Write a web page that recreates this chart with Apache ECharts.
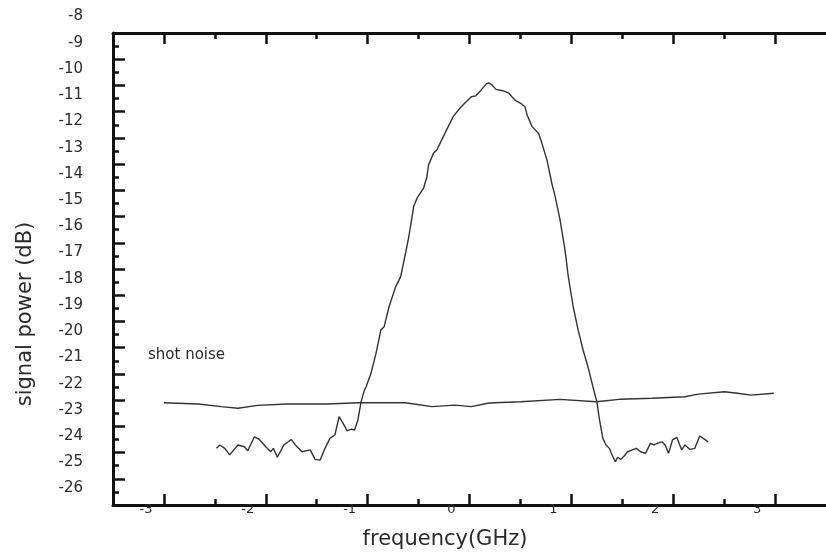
<!DOCTYPE html>
<html>
<head>
<meta charset="utf-8">
<script src="https://cdn.jsdelivr.net/npm/echarts@6/dist/echarts.min.js"></script>
<style>html,body{margin:0;padding:0;background:#fff}#c{width:826px;height:553px}</style>
</head>
<body>
<div id="c"></div>
<script>
// ---- data ----
const signalFreq = [-2.484,-2.451,-2.403,-2.354,-2.274,-2.209,-2.177,-2.112,-2.064,-2.000,-1.952,-1.925,-1.887,-1.822,-1.751,-1.709,-1.645,-1.564,-1.516,-1.467,-1.419,-1.371,-1.322,-1.280,-1.241,-1.202,-1.160,-1.128,-1.096,-1.064,-1.032,-1.015,-0.967,-0.918,-0.870,-0.838,-0.790,-0.725,-0.676,-0.628,-0.596,-0.548,-0.515,-0.451,-0.418,-0.402,-0.354,-0.321,-0.257,-0.209,-0.160,-0.095,-0.047,0.018,0.060,0.115,0.163,0.188,0.221,0.260,0.324,0.382,0.421,0.454,0.502,0.544,0.566,0.614,0.679,0.711,0.760,0.808,0.841,0.889,0.938,0.970,1.018,1.067,1.115,1.163,1.212,1.250,1.277,1.309,1.341,1.373,1.399,1.432,1.454,1.486,1.519,1.551,1.599,1.638,1.679,1.728,1.776,1.809,1.858,1.890,1.921,1.954,1.993,2.035,2.083,2.115,2.164,2.212,2.260,2.309,2.342];
const signalPower = [-23.84,-23.71,-23.84,-24.09,-23.71,-23.78,-23.93,-23.40,-23.50,-23.78,-23.97,-23.84,-24.18,-23.71,-23.50,-23.71,-23.97,-23.90,-24.26,-24.29,-23.84,-23.46,-23.33,-22.63,-22.89,-23.17,-23.11,-23.14,-22.76,-22.06,-21.62,-21.49,-20.98,-20.22,-19.33,-19.20,-18.44,-17.68,-17.29,-16.40,-15.77,-14.62,-14.30,-13.92,-13.48,-13.03,-12.59,-12.46,-11.95,-11.57,-11.19,-10.87,-10.68,-10.43,-10.40,-10.17,-9.95,-9.90,-9.98,-10.15,-10.20,-10.28,-10.45,-10.58,-10.68,-10.81,-11.13,-11.57,-11.83,-12.21,-12.84,-13.73,-14.24,-15.13,-16.28,-17.29,-18.44,-19.33,-20.09,-20.73,-21.49,-22.06,-22.76,-23.46,-23.71,-23.84,-24.09,-24.35,-24.18,-24.26,-24.13,-23.97,-23.90,-23.84,-23.97,-24.03,-23.65,-23.71,-23.63,-23.59,-23.71,-24.03,-23.52,-23.42,-23.90,-23.71,-23.88,-23.84,-23.37,-23.50,-23.59];
const noiseFreq = [-3.000,-2.661,-2.439,-2.274,-2.080,-1.790,-1.403,-1.083,-0.628,-0.369,-0.144,0.018,0.179,0.244,0.502,0.889,1.244,1.470,1.793,2.115,2.245,2.502,2.632,2.761,2.987];
const noisePower = [-22.10,-22.15,-22.25,-22.31,-22.20,-22.15,-22.15,-22.10,-22.10,-22.25,-22.19,-22.25,-22.12,-22.10,-22.06,-21.97,-22.06,-21.97,-21.93,-21.87,-21.77,-21.68,-21.74,-21.81,-21.74];
const xMajorTicks = [-3,-2,-1,0,1,2,3];
const xMinorTicks = [-2.5,-1.5,-0.5,0.5,1.5,2.5];
const xTickLabels = ['-3','-2','-1','0','1','2','3'];
const yName = 'signal power (dB)';
const xName = 'frequency(GHz)';
const noteText = 'shot noise';

// ---- chart ----
const FONT = 'DejaVu Sans';
const TXT = '#2a2a2a';
const chart = echarts.init(document.getElementById('c'), null, {renderer: 'canvas'});
const pair = (xs, ys) => xs.map((x, i) => [x, ys[i]]);
const xBase = {type: 'value', min: -3.5, max: 3.5, splitLine: {show: false}, gridIndex: 0};
const frameLine = {show: true, lineStyle: {color: '#111', width: 3}};
chart.setOption({
  animation: false,
  backgroundColor: '#fff',
  grid: [
    {left: 113, top: 33, right: -10, bottom: 48, containLabel: false},
    // label grid: same size, shifted up so the tick labels sit above their ticks as in the scan
    {left: 113, top: 16.5, right: -10, bottom: 64.5, containLabel: false}
  ],
  xAxis: [
    Object.assign({}, xBase, {
      position: 'bottom',
      axisLine: Object.assign({onZero: false}, frameLine),
      axisTick: {show: true, inside: true, length: 11, customValues: xMajorTicks, lineStyle: {color: '#111', width: 2.5}},
      axisLabel: {show: true, customValues: xMajorTicks, formatter: v => xTickLabels[xMajorTicks.indexOf(Math.round(v))] || '',
        margin: -2, fontSize: 13, fontFamily: FONT, color: TXT, padding: [0, 36, 0, 0], hideOverlap: false}
    }),
    Object.assign({}, xBase, {
      position: 'bottom',
      axisLine: {show: false, onZero: false},
      axisTick: {show: true, inside: true, length: 6, customValues: xMinorTicks, lineStyle: {color: '#111', width: 2.5}},
      axisLabel: {show: false}
    }),
    Object.assign({}, xBase, {
      position: 'top',
      axisLine: Object.assign({onZero: false}, frameLine),
      axisTick: {show: true, inside: true, length: 11, customValues: xMajorTicks, lineStyle: {color: '#111', width: 2.5}},
      axisLabel: {show: false}
    }),
    Object.assign({}, xBase, {
      position: 'top',
      axisLine: {show: false, onZero: false},
      axisTick: {show: true, inside: true, length: 6, customValues: xMinorTicks, lineStyle: {color: '#111', width: 2.5}},
      axisLabel: {show: false}
    }),
    Object.assign({}, xBase, {gridIndex: 1, show: false})
  ],
  yAxis: [{
    type: 'value', position: 'left', min: -26, max: -8, interval: 1, gridIndex: 0,
    splitLine: {show: false},
    axisLine: Object.assign({onZero: false}, frameLine),
    axisTick: {show: true, inside: true, length: 12, lineStyle: {color: '#111', width: 2.5}},
    minorTick: {show: true, splitNumber: 2, length: 6, lineStyle: {color: '#111', width: 2.5}},
    axisLabel: {show: false}
  }, {
    type: 'value', position: 'left', min: -26, max: -8, interval: 1, gridIndex: 1,
    splitLine: {show: false},
    axisLine: {show: false, onZero: false},
    axisTick: {show: false},
    axisLabel: {show: true, margin: 30, fontSize: 15, fontFamily: FONT, color: TXT,
      showMinLabel: true, showMaxLabel: true}
  }],
  graphic: [
    {type: 'text', x: 26, y: 314, rotation: Math.PI / 2,
      style: {text: yName, font: '21px "DejaVu Sans"', fill: TXT, textAlign: 'center', textVerticalAlign: 'middle'}},
    {type: 'text', x: 445, y: 540,
      style: {text: xName, font: '21px "DejaVu Sans"', fill: TXT, textAlign: 'center', textVerticalAlign: 'middle'}},
    {type: 'text', x: 148, y: 355,
      style: {text: noteText, font: '15px "DejaVu Sans"', fill: TXT, textAlign: 'left', textVerticalAlign: 'middle'}}
  ],
  series: [
    {name: 'signal', type: 'line', xAxisIndex: 0, yAxisIndex: 0, showSymbol: false, symbol: 'none',
      lineStyle: {color: '#333', width: 1.4}, data: pair(signalFreq, signalPower)},
    {name: 'shot noise', type: 'line', xAxisIndex: 0, yAxisIndex: 0, showSymbol: false, symbol: 'none',
      lineStyle: {color: '#333', width: 1.4}, data: pair(noiseFreq, noisePower)}
  ]
});
</script>
</body>
</html>
